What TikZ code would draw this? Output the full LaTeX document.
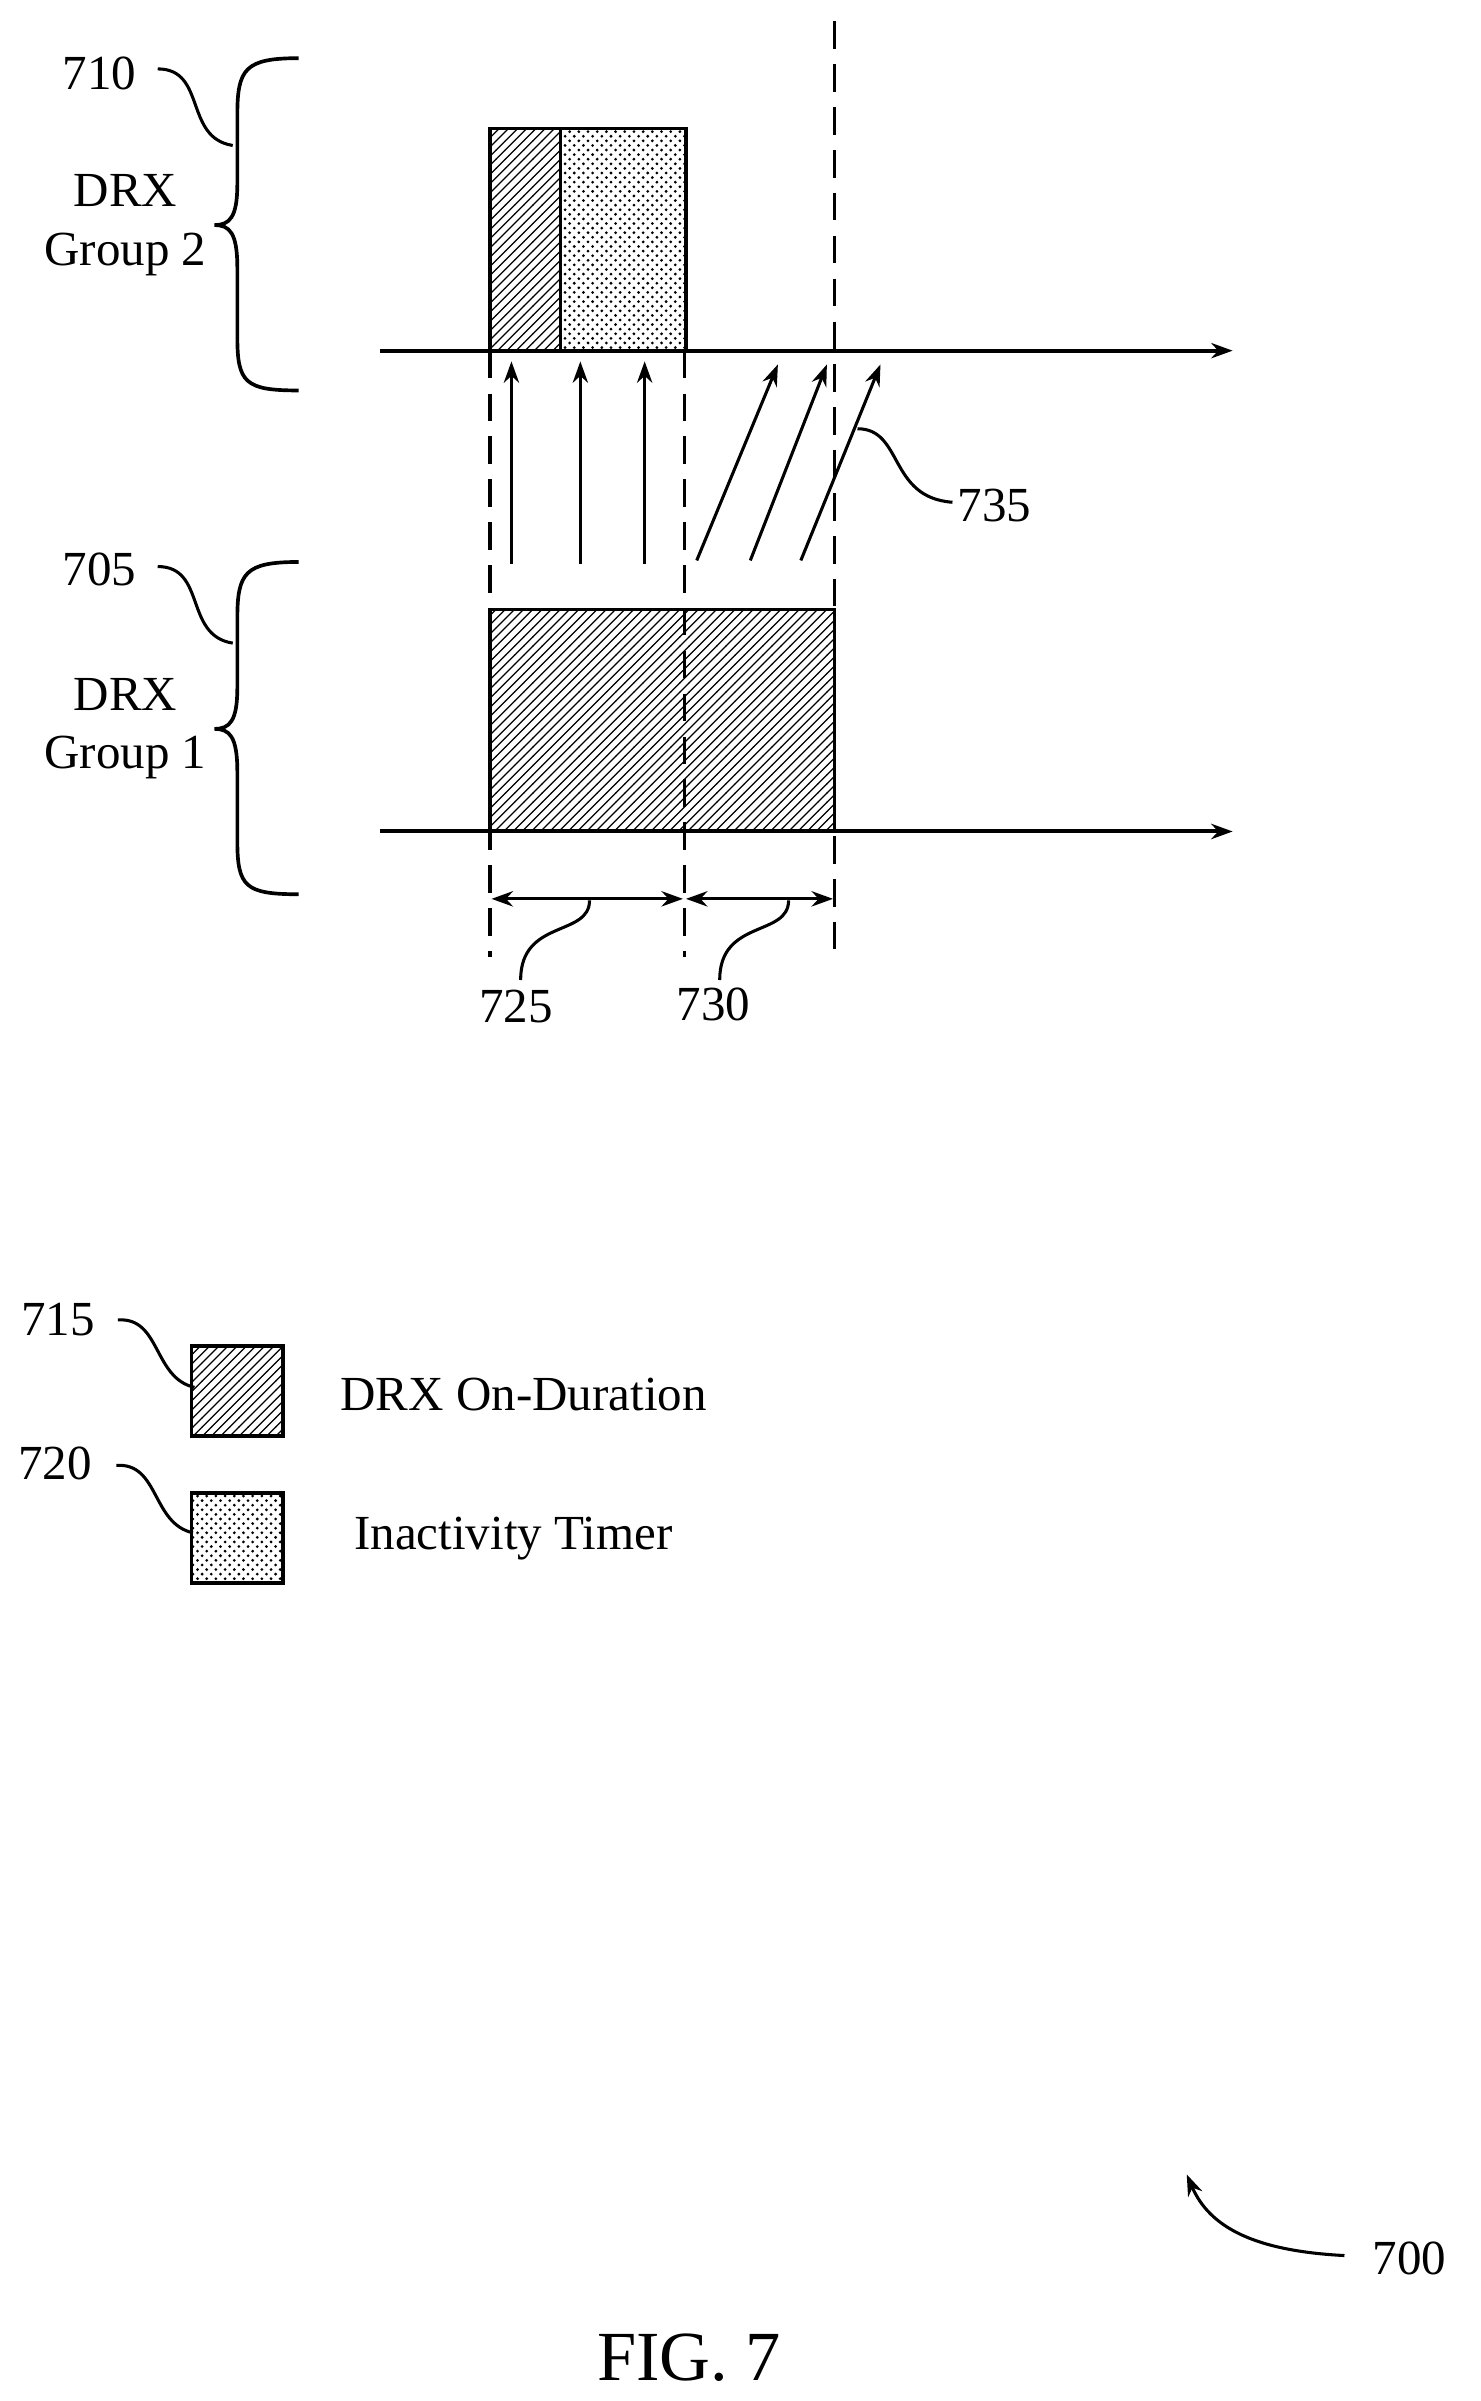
\documentclass[tikz,border=0pt]{standalone}
\usepackage{fontspec}
\setmainfont{Liberation Serif}
\usetikzlibrary{patterns,arrows.meta}
\begin{document}
\begin{tikzpicture}[x=0.5pt,y=-0.5pt,
  ln/.style={line width=1.2pt},
  dsh/.style={line width=1.1pt,dash pattern=on 9pt off 5pt},
  arr/.style={line width=1pt,-{Stealth[length=7pt,width=5pt]}},
  darr/.style={line width=1pt,{Stealth[length=7pt,width=5pt]}-{Stealth[length=7pt,width=5pt]}},
  lead/.style={line width=1pt},
  hatch/.style={ln,pattern=north east lines},
  dotf/.style={ln,pattern=crosshatch dots},
  lbl/.style={font=\fontsize{16}{19}\selectfont,inner sep=0pt}]
\useasboundingbox (0,0) rectangle (967,1568);
% axes
\coordinate (a2s) at (248,229); \coordinate (a2e) at (805,229);
\coordinate (a1s) at (248,543); \coordinate (a1e) at (805,543);
\draw[arr,line width=1.3pt] (a2s) -- (a2e);
\draw[arr,line width=1.3pt] (a1s) -- (a1e);
% boxes
\node[hatch,draw,minimum width=23pt,minimum height=72.5pt,inner sep=0pt] (h2) at (343,156.5) {};
\node[dotf,draw,minimum width=41pt,minimum height=72.5pt,inner sep=0pt] (d2) at (407,156.5) {};
\node[hatch,draw,minimum width=112.5pt,minimum height=72.5pt,inner sep=0pt] (h1) at (432.5,470.5) {};
% dashed lines
\coordinate (v1t) at (320,229); \coordinate (v1b) at (320,625);
\coordinate (v2t) at (447,229); \coordinate (v2b) at (447,625);
\coordinate (v3t) at (545,14); \coordinate (v3b) at (545,628);
\draw[dsh] (v1t) -- (v1b); \draw[dsh] (v2t) -- (v2b); \draw[dsh] (v3t) -- (v3b);
% vertical arrows
\foreach \x in {334,379,421}{\draw[arr] (\x,368) -- (\x,236);}
% slanted arrows
\draw[arr] (455,366) -- (508,238);
\draw[arr] (490,366) -- (540,238);
\draw[arr] (523,366) -- (575,238);
% 735
\node[lbl,anchor=west] (l735) at (625,330) {735};
\draw[lead] (l735.west) ++(-3,-2) .. controls (580,325) and (590,280) .. (560,280);
% dimension arrows
\draw[darr] (321,587) -- (446,587);
\draw[darr] (448,587) -- (544,587);
\node[lbl] (l725) at (337,657) {725};
\node[lbl] (l730) at (466,656) {730};
\draw[lead] (385,588) .. controls (385,612) and (340,600) .. (340,640);
\draw[lead] (515,588) .. controls (515,612) and (470,600) .. (470,640);
% braces
\draw[ln] (195,38) .. controls (160,38) and (155,45) .. (155,75) -- (155,120) .. controls (155,142) and (150,147) .. (140,147) .. controls (150,147) and (155,152) .. (155,175) -- (155,220) .. controls (155,250) and (160,255) .. (195,255);
\draw[ln] (195,367) .. controls (160,367) and (155,374) .. (155,404) -- (155,449) .. controls (155,471) and (150,476) .. (140,476) .. controls (150,476) and (155,481) .. (155,504) -- (155,549) .. controls (155,579) and (160,584) .. (195,584);
\node[lbl] (l710) at (65,48) {710};
\node[lbl] (l705) at (65,372) {705};
\draw[lead] (103,45) .. controls (135,45) and (120,90) .. (152,95);
\draw[lead] (103,370) .. controls (135,370) and (120,415) .. (152,420);
\node[lbl,align=center] (g2) at (82,147) {DRX\\Group 2};
\node[lbl,align=center] (g1) at (82,476) {DRX\\Group 1};
% legend
\node[hatch,draw,minimum width=30pt,minimum height=29.5pt,inner sep=0pt] (lg1) at (155,908.5) {};
\node[dotf,draw,minimum width=30pt,minimum height=29.5pt,inner sep=0pt] (lg2) at (155,1004.5) {};
\node[lbl,anchor=west] (t1) at (222,911) {DRX On-Duration};
\node[lbl,anchor=west] (t2) at (231,1005) {Inactivity Timer};
\node[lbl] (l715) at (38,862) {715};
\node[lbl] (l720) at (36,956) {720};
\draw[lead] (77,862) .. controls (105,860) and (100,900) .. (127,906);
\draw[lead] (76,957) .. controls (104,955) and (99,995) .. (126,1001);
% 700
\node[lbl,anchor=west] (l700) at (896,1475) {700};
\draw[arr] (878,1473) .. controls (820,1470) and (790,1455) .. (775,1420);
\node[font=\fontsize{23}{27}\selectfont,inner sep=0pt] (fig) at (450,1540) {FIG. 7};
\end{tikzpicture}
\end{document}
